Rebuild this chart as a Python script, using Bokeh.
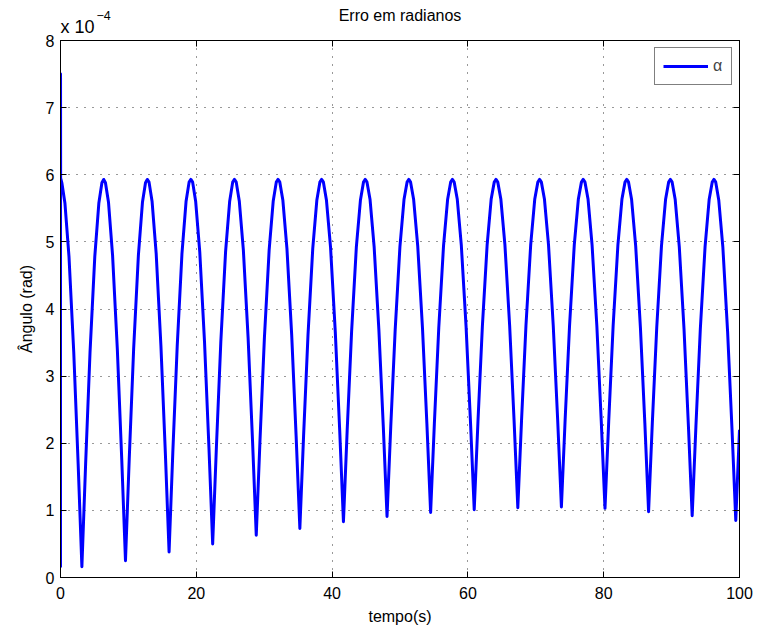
from bokeh.plotting import figure
from bokeh.models import Range1d, LinearAxis, FixedTicker, Title
from bokeh.embed import file_html
from bokeh.resources import INLINE

# tempo (s)
tempo = [0.0, 0.005, 0.02, 0.20, 0.65, 1.25, 1.95, 2.60,
         3.15, 3.70, 4.35, 5.05, 5.65, 6.10, 6.36, 6.62, 7.07, 7.67, 8.37, 9.02,
         9.57, 10.12, 10.77, 11.47, 12.07, 12.52, 12.78, 13.04, 13.49, 14.09, 14.79, 15.44,
         15.99, 16.54, 17.19, 17.89, 18.49, 18.94, 19.20, 19.46, 19.91, 20.51, 21.21, 21.86,
         22.41, 22.96, 23.61, 24.31, 24.91, 25.36, 25.62, 25.88, 26.33, 26.93, 27.63, 28.28,
         28.83, 29.38, 30.03, 30.73, 31.33, 31.78, 32.04, 32.30, 32.75, 33.35, 34.05, 34.70,
         35.25, 35.80, 36.45, 37.15, 37.75, 38.20, 38.46, 38.72, 39.17, 39.77, 40.47, 41.12,
         41.67, 42.22, 42.87, 43.57, 44.17, 44.62, 44.88, 45.14, 45.59, 46.19, 46.89, 47.54,
         48.09, 48.64, 49.29, 49.99, 50.59, 51.04, 51.30, 51.56, 52.01, 52.61, 53.31, 53.96,
         54.51, 55.06, 55.71, 56.41, 57.01, 57.46, 57.72, 57.98, 58.43, 59.03, 59.73, 60.38,
         60.93, 61.48, 62.13, 62.83, 63.43, 63.88, 64.14, 64.40, 64.85, 65.45, 66.15, 66.80,
         67.35, 67.90, 68.55, 69.25, 69.85, 70.30, 70.56, 70.82, 71.27, 71.87, 72.57, 73.22,
         73.77, 74.32, 74.97, 75.67, 76.27, 76.72, 76.98, 77.24, 77.69, 78.29, 78.99, 79.64,
         80.19, 80.74, 81.39, 82.09, 82.69, 83.14, 83.40, 83.66, 84.11, 84.71, 85.41, 86.06,
         86.61, 87.16, 87.81, 88.51, 89.11, 89.56, 89.82, 90.08, 90.53, 91.13, 91.83, 92.48,
         93.03, 93.58, 94.23, 94.93, 95.53, 95.98, 96.24, 96.50, 96.95, 97.55, 98.25, 98.90,
         99.45, 100.0]

# erro alpha (x 1e-4 rad)
alpha = [0.15, 7.50, 5.95, 5.88, 5.58, 4.78, 3.36, 1.69,
         0.16, 1.69, 3.36, 4.78, 5.58, 5.88, 5.93, 5.88, 5.59, 4.80, 3.40, 1.76,
         0.25, 1.76, 3.40, 4.80, 5.59, 5.88, 5.93, 5.89, 5.60, 4.83, 3.45, 1.86,
         0.38, 1.86, 3.45, 4.83, 5.60, 5.89, 5.93, 5.89, 5.60, 4.85, 3.51, 1.94,
         0.50, 1.94, 3.51, 4.85, 5.60, 5.89, 5.93, 5.89, 5.61, 4.88, 3.57, 2.04,
         0.63, 2.04, 3.57, 4.88, 5.61, 5.89, 5.93, 5.89, 5.62, 4.90, 3.61, 2.11,
         0.73, 2.11, 3.61, 4.90, 5.62, 5.89, 5.93, 5.89, 5.62, 4.92, 3.66, 2.19,
         0.83, 2.19, 3.66, 4.92, 5.62, 5.89, 5.93, 5.89, 5.63, 4.93, 3.69, 2.25,
         0.91, 2.25, 3.69, 4.93, 5.63, 5.89, 5.93, 5.89, 5.63, 4.94, 3.72, 2.29,
         0.97, 2.29, 3.72, 4.94, 5.63, 5.89, 5.93, 5.89, 5.64, 4.95, 3.74, 2.32,
         1.01, 2.32, 3.74, 4.95, 5.64, 5.89, 5.93, 5.89, 5.64, 4.96, 3.75, 2.34,
         1.04, 2.34, 3.75, 4.96, 5.64, 5.89, 5.93, 5.89, 5.64, 4.96, 3.75, 2.35,
         1.05, 2.35, 3.75, 4.96, 5.64, 5.89, 5.93, 5.89, 5.64, 4.95, 3.75, 2.33,
         1.03, 2.33, 3.75, 4.95, 5.64, 5.89, 5.93, 5.89, 5.63, 4.94, 3.72, 2.30,
         0.98, 2.30, 3.72, 4.94, 5.63, 5.89, 5.93, 5.89, 5.63, 4.93, 3.70, 2.25,
         0.92, 2.25, 3.70, 4.93, 5.63, 5.89, 5.93, 5.89, 5.62, 4.92, 3.66, 2.20,
         0.85, 2.20]

x_ticks = [0, 20, 40, 60, 80, 100]
y_ticks = [0, 1, 2, 3, 4, 5, 6, 7, 8]

titulo = "Erro em radianos"
escala = "x 10"
expoente = "−4"

FONT = "Liberation Sans"

p = figure(width=759, height=631, output_backend="svg", toolbar_location=None,
           x_range=Range1d(0, 100), y_range=Range1d(0, 8),
           min_border_left=60, min_border_right=20, min_border_top=40, min_border_bottom=54,
           background_fill_color="white", border_fill_color="white")
p.title.text_font_size = "0px"
p.title.standoff = 0

p.line(tempo, alpha, line_color="#0000ff", line_width=3, line_join="round", legend_label="α")

for ax, ticks in ((p.xaxis[0], x_ticks), (p.yaxis[0], y_ticks)):
    ax.ticker = FixedTicker(ticks=ticks)
    ax.major_tick_in = 6
    ax.major_tick_out = 0
    ax.minor_tick_line_color = None
    ax.axis_line_color = "black"
    ax.major_tick_line_color = "black"
    ax.major_label_text_font = FONT
    ax.major_label_text_font_size = "16px"
    ax.major_label_text_color = "black"
    ax.axis_label_text_font = FONT
    ax.axis_label_text_font_size = "16px"
    ax.axis_label_text_font_style = "normal"
    ax.axis_label_text_color = "black"

p.xaxis.axis_label = "tempo(s)"
p.yaxis.axis_label = "Ângulo (rad)"
p.xaxis.major_label_standoff = 9
p.yaxis.major_label_standoff = 6
p.xaxis.axis_label_standoff = 6
p.yaxis.axis_label_standoff = 8

for loc, ticks in (("above", x_ticks), ("right", y_ticks)):
    ax = LinearAxis(ticker=FixedTicker(ticks=ticks), major_tick_in=6, major_tick_out=0,
                    minor_tick_line_color=None, major_label_text_color=None,
                    major_label_text_font_size="16px",
                    major_label_standoff=0, axis_line_color="black",
                    major_tick_line_color="black")
    p.add_layout(ax, loc)

# texts above the frame, stacked outward from the frame
p.add_layout(Title(text=escala, align="left", vertical_align="top", offset=0, standoff=3.4,
                   text_font=FONT, text_font_size="18px", text_font_style="normal",
                   text_color="black"), "above")
p.add_layout(Title(text=expoente, align="left", vertical_align="bottom", offset=36,
                   standoff=-8.3, text_font=FONT, text_font_size="12.5px",
                   text_font_style="normal", text_color="black"), "above")
p.add_layout(Title(text=titulo, align="center", vertical_align="bottom", standoff=-23.8,
                   text_font=FONT, text_font_size="16px", text_font_style="normal",
                   text_color="black"), "above")

p.outline_line_color = "black"

p.grid.grid_line_color = "#333333"
p.grid.grid_line_dash = "1 7"
p.grid.grid_line_width = 1
p.xgrid.ticker = FixedTicker(ticks=x_ticks)
p.ygrid.ticker = FixedTicker(ticks=y_ticks)

p.legend.location = "top_right"
p.legend.margin = 7
p.legend.padding = 8
p.legend.glyph_width = 45
p.legend.label_width = 10
p.legend.label_standoff = 5
p.legend.label_text_font = FONT
p.legend.label_text_font_size = "16px"
p.legend.border_line_color = "black"
p.legend.border_line_width = 1
p.legend.background_fill_alpha = 1

open("out.html", "w").write(file_html(p, INLINE))
